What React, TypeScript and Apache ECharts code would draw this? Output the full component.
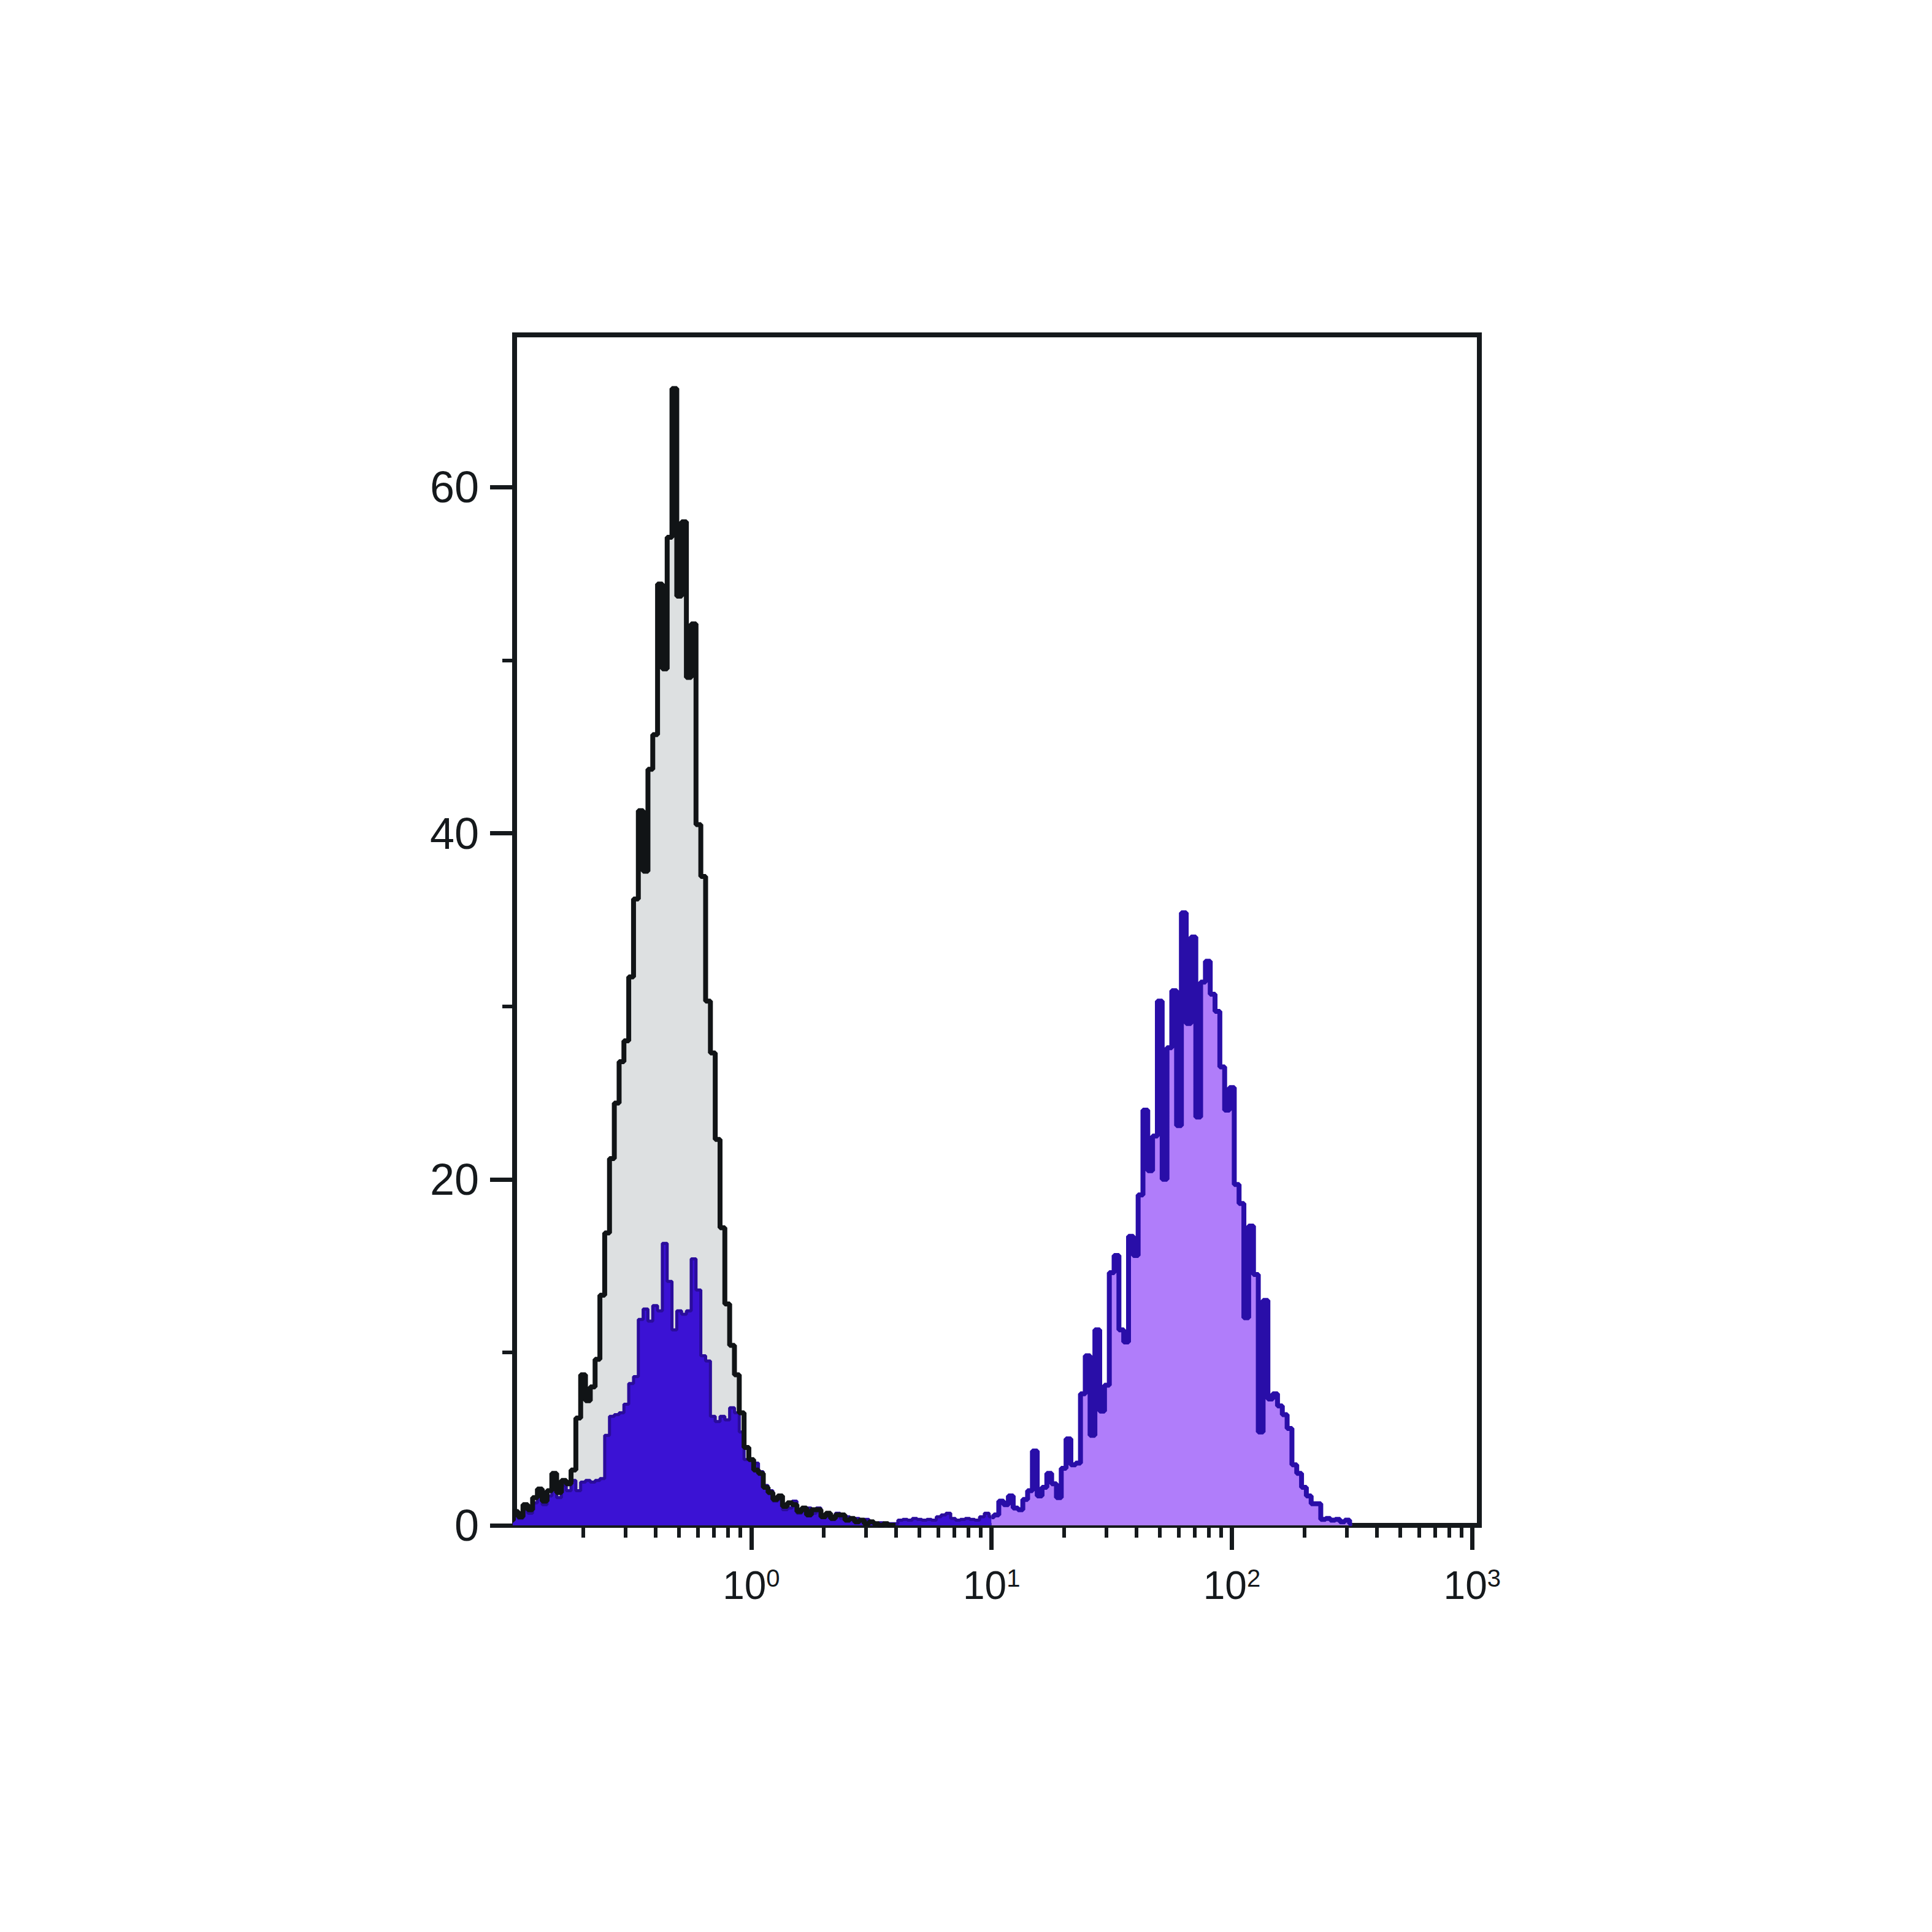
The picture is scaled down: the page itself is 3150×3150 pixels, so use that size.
import React, { useEffect, useRef } from 'react';
import * as echarts from 'echarts';

// Histogram channels: log10(fluorescence) from LOG_START in steps of LOG_STEP
const LOG_START = -1.0;
const LOG_STEP = 0.02;

// Isotype / unstained control (grey fill, black outline), from log10 = -1.00 to 0.60
const controlCounts: number[] = [
  0.3, 0.8, 0.5, 1.2, 0.9, 1.6, 2.1, 1.4, 2.0, 3.0,
  1.9, 2.6, 2.4, 3.2, 6.2, 8.7, 7.2, 8.0, 9.6, 13.3,
  16.9, 21.2, 24.4, 26.8, 28.0, 31.7, 36.2, 41.3, 37.8, 43.7,
  45.7, 54.4, 49.5, 57.1, 65.7, 53.7, 58.0, 49.0, 52.1, 40.5,
  37.5, 30.3, 27.3, 22.3, 17.2, 12.8, 10.4, 8.7, 6.5, 4.5,
  3.8, 3.2, 3.0, 2.2, 1.9, 1.5, 1.7, 1.1, 1.3, 1.2,
  0.8, 1.0, 0.6, 0.9, 0.9, 0.5, 0.7, 0.4, 0.6, 0.6,
  0.3, 0.4, 0.2, 0.3, 0.1, 0.2, 0.1, 0.0, 0.1, 0.0,
  0.0,
];

// Stained sample, from log10 = -1.00 to 2.50
const stainedCounts: number[] = [
  0.3, 0.6, 0.4, 0.9, 0.7, 1.3, 1.8, 1.2, 1.7, 2.2,
  1.6, 2.3, 2.0, 2.6, 2.0, 2.5, 2.6, 2.5, 2.6, 2.7,
  5.2, 6.3, 6.4, 6.5, 7.0, 8.2, 8.6, 11.9, 12.5, 11.8,
  12.7, 12.4, 16.3, 14.1, 11.3, 12.4, 12.2, 12.4, 15.4, 13.6,
  9.8, 9.5, 6.3, 6.0, 6.3, 6.1, 6.8, 6.5, 5.4, 3.8,
  3.8, 3.6, 3.1, 2.3, 2.0, 1.4, 1.5, 0.9, 1.0, 1.4,
  0.7, 0.9, 1.0, 0.7, 1.0, 0.5, 0.7, 0.5, 0.7, 0.4,
  0.5, 0.35, 0.4, 0.3, 0.35, 0.2, 0.1, 0.15, 0.1, 0.1,
  0.1, 0.3, 0.35, 0.3, 0.4, 0.35, 0.3, 0.35, 0.3, 0.5,
  0.6, 0.7, 0.4, 0.3, 0.35, 0.4, 0.35, 0.3, 0.5, 0.7,
  0.5, 0.6, 1.4, 1.2, 1.7, 1.0, 0.9, 1.5, 2.0, 4.3,
  1.7, 2.2, 3.0, 2.4, 1.6, 3.3, 5.0, 3.5, 3.6, 7.6,
  9.8, 5.2, 11.3, 6.6, 8.1, 14.6, 15.6, 11.3, 10.6, 16.7,
  15.6, 19.1, 24.0, 20.5, 22.5, 30.3, 20.0, 27.6, 30.9, 23.1,
  35.4, 29.0, 34.0, 23.6, 31.4, 32.6, 30.7, 29.7, 26.5, 24.0,
  25.3, 19.7, 18.6, 12.0, 17.3, 14.5, 5.4, 13.0, 7.3, 7.6,
  6.9, 6.4, 5.6, 3.5, 3.0, 2.2, 1.7, 1.25, 1.25, 0.35,
  0.4, 0.3, 0.35, 0.2, 0.3, 0.1,
];
// channel index where the stained sample switches from the negative to the positive population
const STAINED_SPLIT_INDEX = 100;

// Axis ticks (x in log10 units)
const xMajorTicks = [0, 1, 2, 3];
const xMinorMultipliers = [2, 3, 4, 5, 6, 7, 8, 9];
const xMinorDecades = [-1, 0, 1, 2];
const yMajorTicks = [0, 20, 40, 60];
const yMinorTicks = [10, 30, 50];

const X_MIN = -0.985;
const X_MAX = 3.03;
const Y_MAX = 68.8;

const AXIS_COLOR = '#15191c';
const FONT = "'Liberation Sans Narrow', 'Liberation Sans', Arial, sans-serif";

function toPoints(arr: number[]): [number, number][] {
  return arr.map((v, i) => [+(LOG_START + i * LOG_STEP).toFixed(4), v]);
}

export default function App() {
  const ref = useRef<HTMLDivElement>(null);

  useEffect(() => {
    if (!ref.current) return;
    const chart = echarts.init(ref.current, undefined, { renderer: 'svg' });

    const controlData = toPoints(controlCounts);
    const stainedData = toPoints(stainedCounts);
    const stainedLow = stainedData.slice(0, STAINED_SPLIT_INDEX + 1);
    const stainedHigh = stainedData.slice(STAINED_SPLIT_INDEX);

    const xMinorTicks: number[] = [];
    xMinorDecades.forEach((d) => {
      xMinorMultipliers.forEach((m) => {
        xMinorTicks.push(+(d + Math.log10(m)).toFixed(5));
      });
    });

    const tickLine = { color: AXIS_COLOR, width: 7 };

    chart.setOption({
      animation: false,
      backgroundColor: '#ffffff',
      grid: {
        left: 839,
        top: 546,
        width: 1573,
        height: 1941,
        show: true,
        borderColor: AXIS_COLOR,
        borderWidth: 8,
        backgroundColor: 'transparent',
      },
      xAxis: [
        {
          type: 'value',
          min: X_MIN,
          max: X_MAX,
          position: 'bottom',
          axisLine: { show: true, onZero: false, lineStyle: { color: AXIS_COLOR, width: 8 } },
          axisTick: { show: true, customValues: xMajorTicks, length: 40, lineStyle: tickLine },
          axisLabel: {
            show: true,
            customValues: xMajorTicks,
            margin: 66,
            formatter: (v: number) => `{b|10}{s|${Math.round(v)}}`,
            rich: {
              b: { fontSize: 64, fontFamily: FONT, color: AXIS_COLOR, lineHeight: 64 },
              s: { fontSize: 40, fontFamily: FONT, color: AXIS_COLOR, lineHeight: 32, verticalAlign: 'top' },
            },
          },
          splitLine: { show: false },
        },
        {
          type: 'value',
          min: X_MIN,
          max: X_MAX,
          position: 'bottom',
          axisLine: { show: false, onZero: false },
          axisTick: { show: true, customValues: xMinorTicks, length: 20, lineStyle: { color: AXIS_COLOR, width: 6 } },
          axisLabel: { show: false },
          splitLine: { show: false },
        },
      ],
      yAxis: [
        {
          type: 'value',
          min: 0,
          max: Y_MAX,
          position: 'left',
          axisLine: { show: true, onZero: false, lineStyle: { color: AXIS_COLOR, width: 8 } },
          axisTick: { show: true, customValues: yMajorTicks, length: 40, lineStyle: tickLine },
          axisLabel: {
            show: true,
            customValues: yMajorTicks,
            margin: 58,
            fontSize: 72,
            fontFamily: FONT,
            color: AXIS_COLOR,
          },
          splitLine: { show: false },
        },
        {
          type: 'value',
          min: 0,
          max: Y_MAX,
          position: 'left',
          axisLine: { show: false, onZero: false },
          axisTick: { show: true, customValues: yMinorTicks, length: 20, lineStyle: { color: AXIS_COLOR, width: 6 } },
          axisLabel: { show: false },
          splitLine: { show: false },
        },
      ],
      series: [
        {
          name: 'control-fill',
          type: 'line',
          xAxisIndex: 0,
          yAxisIndex: 0,
          data: controlData,
          step: 'middle',
          symbol: 'none',
          silent: true,
          lineStyle: { width: 0, opacity: 0 },
          areaStyle: { color: '#dde0e1', opacity: 1 },
        },
        {
          name: 'stained-negative',
          type: 'line',
          xAxisIndex: 0,
          yAxisIndex: 0,
          data: stainedLow,
          step: 'middle',
          symbol: 'none',
          silent: true,
          lineStyle: { color: '#2a0c9c', width: 5 },
          areaStyle: { color: '#3b12d4', opacity: 1 },
        },
        {
          name: 'stained-positive',
          type: 'line',
          xAxisIndex: 0,
          yAxisIndex: 0,
          data: stainedHigh,
          step: 'middle',
          symbol: 'none',
          silent: true,
          lineStyle: { color: '#290ea8', width: 8 },
          areaStyle: { color: '#b07dfa', opacity: 1 },
        },
        {
          name: 'control-line',
          type: 'line',
          xAxisIndex: 0,
          yAxisIndex: 0,
          data: controlData,
          step: 'middle',
          symbol: 'none',
          silent: true,
          lineStyle: { color: '#111416', width: 8 },
        },
      ],
    });

    return () => {
      chart.dispose();
    };
  }, []);

  return (
    <div
      ref={ref}
      style={{ position: 'absolute', left: 0, top: 0, width: '3150px', height: '3150px' }}
    />
  );
}
